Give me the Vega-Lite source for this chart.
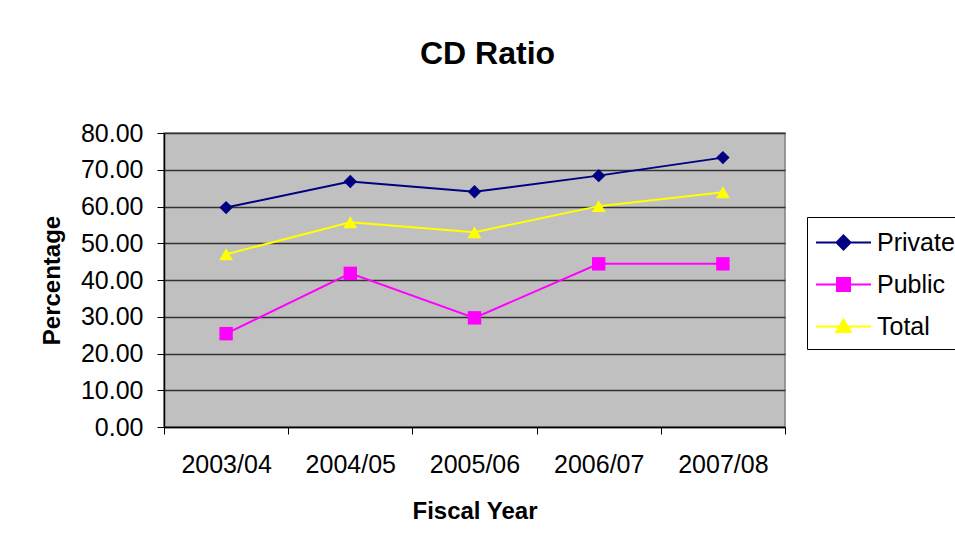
{
  "$schema": "https://vega.github.io/schema/vega-lite/v6.json",
  "width": 621,
  "height": 294,
  "autosize": "none",
  "padding": {"left": 164, "top": 133, "right": 170, "bottom": 127},
  "background": "white",
  "title": {
    "text": "CD Ratio",
    "font": "Liberation Sans",
    "fontSize": 32,
    "fontWeight": "bold",
    "color": "black",
    "anchor": "middle",
    "baseline": "alphabetic",
    "dx": 13,
    "offset": 25
  },
  "data": {
    "values": [
      {"year": "2003/04", "series": "Private", "value": 59.7},
      {"year": "2004/05", "series": "Private", "value": 66.8},
      {"year": "2005/06", "series": "Private", "value": 64.0},
      {"year": "2006/07", "series": "Private", "value": 68.4},
      {"year": "2007/08", "series": "Private", "value": 73.3},
      {"year": "2003/04", "series": "Public", "value": 25.4},
      {"year": "2004/05", "series": "Public", "value": 41.8},
      {"year": "2005/06", "series": "Public", "value": 29.7},
      {"year": "2006/07", "series": "Public", "value": 44.4},
      {"year": "2007/08", "series": "Public", "value": 44.4},
      {"year": "2003/04", "series": "Total", "value": 47.0},
      {"year": "2004/05", "series": "Total", "value": 55.7},
      {"year": "2005/06", "series": "Total", "value": 53.0},
      {"year": "2006/07", "series": "Total", "value": 60.1},
      {"year": "2007/08", "series": "Total", "value": 63.9}
    ]
  },
  "encoding": {
    "x": {
      "field": "year",
      "type": "ordinal",
      "scale": {"type": "band", "paddingInner": 0, "paddingOuter": 0},
      "axis": {
        "title": "Fiscal Year",
        "titleFont": "Liberation Sans",
        "titleFontSize": 24,
        "titleFontWeight": "bold",
        "titleColor": "black",
        "titlePadding": 22,
        "labelFont": "Liberation Sans",
        "labelFontSize": 25,
        "labelColor": "black",
        "labelAngle": 0,
        "labelPadding": 18,
        "tickBand": "extent",
        "tickSize": 7,
        "tickColor": "black",
        "domainColor": "black",
        "domainWidth": 1.5,
        "grid": false
      }
    },
    "y": {
      "field": "value",
      "type": "quantitative",
      "scale": {"domain": [0, 80], "nice": false, "zero": true},
      "axis": {
        "title": "Percentage",
        "titleFont": "Liberation Sans",
        "titleFontSize": 24,
        "titleFontWeight": "bold",
        "titleColor": "black",
        "titlePadding": 16,
        "labelFont": "Liberation Sans",
        "labelFontSize": 25,
        "labelColor": "black",
        "labelPadding": 14,
        "format": ".2f",
        "values": [0, 10, 20, 30, 40, 50, 60, 70, 80],
        "tickSize": 7,
        "tickColor": "black",
        "domainColor": "black",
        "domainWidth": 1.5,
        "grid": true,
        "gridColor": "#333333",
        "gridWidth": 1.4
      }
    }
  },
  "layer": [
    {
      "mark": {"type": "line", "strokeWidth": 2},
      "encoding": {
        "color": {
          "field": "series",
          "type": "nominal",
          "scale": {
            "domain": ["Private", "Public", "Total"],
            "range": ["#000080", "#FF00FF", "#FFFF00"]
          },
          "legend": {
            "orient": "none",
            "legendX": 643,
            "legendY": 84,
            "title": null,
            "strokeColor": "black",
            "fillColor": "white",
            "padding": 9,
            "labelFont": "Liberation Sans",
            "labelFontSize": 25,
            "labelColor": "black",
            "labelOffset": 28,
            "rowPadding": 12,
            "symbolSize": 961,
            "symbolStrokeWidth": 2,
            "encode": {
              "symbols": {
                "update": {
                  "shape": {"signal": "datum.value === 'Private' ? 'M-1.065,0H2.484M0.71,-0.45L1.16,0L0.71,0.45L0.26,0Z' : datum.value === 'Public' ? 'M-1.065,0H2.484M0.29,-0.42H1.13V0.42H0.29Z' : 'M-1.065,0H2.484M0.71,-0.45L1.18,0.35H0.24Z'"},
                  "fill": {"signal": "scale('color', datum.value)"},
                  "stroke": {"signal": "scale('color', datum.value)"},
                  "strokeWidth": {"value": 2},
                  "opacity": {"value": 1}
                }
              }
            }
          }
        }
      }
    },
    {
      "transform": [{"filter": "datum.series === 'Private'"}],
      "mark": {"type": "point", "shape": "diamond", "filled": true, "opacity": 1, "size": 180, "color": "#000080"}
    },
    {
      "transform": [{"filter": "datum.series === 'Public'"}],
      "mark": {"type": "point", "shape": "square", "filled": true, "opacity": 1, "size": 180, "color": "#FF00FF"}
    },
    {
      "transform": [{"filter": "datum.series === 'Total'"}],
      "mark": {"type": "point", "shape": "triangle-up", "filled": true, "opacity": 1, "size": 190, "color": "#FFFF00"}
    }
  ],
  "config": {
    "view": {"fill": "#C0C0C0", "stroke": "#808080", "strokeWidth": 1.5}
  }
}
